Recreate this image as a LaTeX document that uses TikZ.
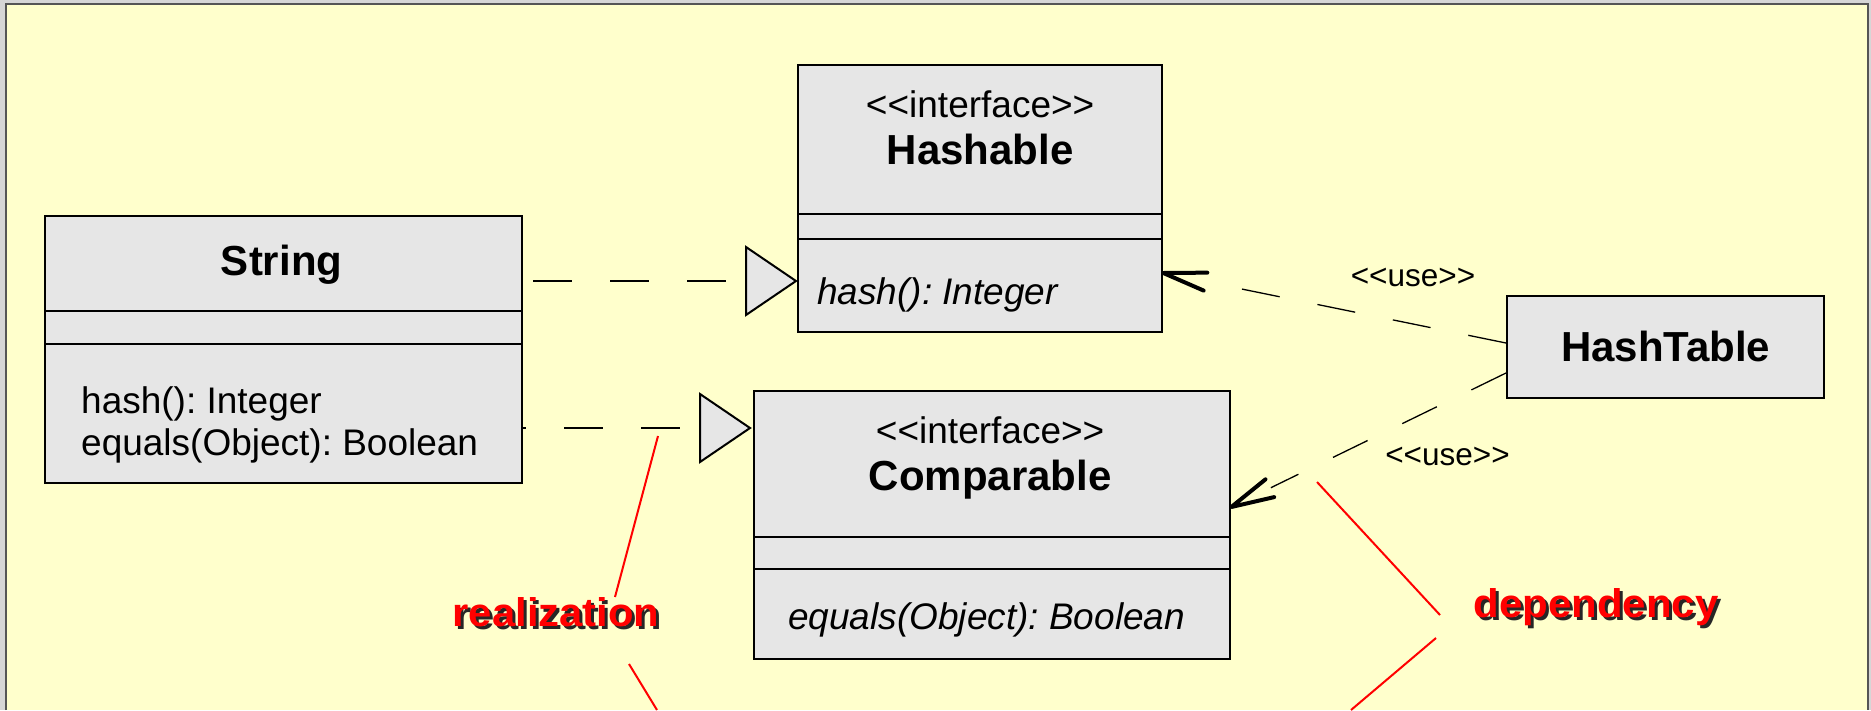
\documentclass[tikz,border=0pt]{standalone}
\usepackage{fontspec}
\usepackage{graphicx}
\newfontfamily\lib{Liberation Sans}
\usetikzlibrary{calc}
\frenchspacing
\definecolor{panel}{HTML}{FFFFCC}
\definecolor{boxgray}{HTML}{E6E6E6}
\definecolor{outergray}{HTML}{D6D6D6}
\definecolor{edgegray}{HTML}{555555}
\definecolor{notered}{HTML}{FF0000}
\tikzset{
  umlbox/.style={draw=black, fill=boxgray, line width=2.3pt, inner sep=0pt, anchor=north west},
  divider/.style={line width=2pt},
  txt/.style={inner sep=0pt, anchor=base, font=\lib\fontsize{37}{44}\selectfont},
  optxt/.style={inner sep=0pt, anchor=base west, font=\lib\fontsize{37}{44}\selectfont},
  itxt/.style={inner sep=0pt, anchor=base west, font=\lib\itshape\fontsize{37}{44}\selectfont},
  ttl/.style={inner sep=0pt, anchor=base, font=\lib\bfseries\fontsize{42}{50}\selectfont},
  usetxt/.style={inner sep=0pt, anchor=base, font=\lib\fontsize{31.5}{38}\selectfont},
  redlbl/.style={inner sep=0pt, anchor=base, text=notered, font=\lib\bfseries\fontsize{40}{48}\selectfont},
  shadowlbl/.style={inner sep=0pt, anchor=base, text=black!85, font=\lib\bfseries\fontsize{40}{48}\selectfont},
  realline/.style={line width=2.2pt, dash pattern=on 38.5pt off 38.5pt, dash phase=56.5pt},
  realtri/.style={draw=black, fill=boxgray, line width=2pt, line join=miter},
  depline/.style={line width=1.3pt, dash pattern=on 38.5pt off 38.5pt},
  dephead/.style={line width=4pt, line cap=round, line join=round},
  noteline/.style={draw=notered, line width=2pt}
}
\begin{document}
\begin{tikzpicture}[x=1pt,y=-1pt]
\useasboundingbox (0,0) rectangle (1871,710);
\fill[outergray] (0,0) rectangle (1871,710);
\fill[panel] (6,4) rectangle (1868,710);
\draw[edgegray, line width=1.5pt] (6,710) -- (6,4) -- (1868,4) -- (1868,710);

% String
\node[umlbox, minimum width=477pt, minimum height=267pt] (str) at (44,215) {};
\draw[divider] ($(str.north west)+(0,96)$) -- ($(str.north east)+(0,96)$);
\draw[divider] ($(str.north west)+(0,129)$) -- ($(str.north east)+(0,129)$);
\node[ttl] (strname) at ($(str.north)+(-2,60)$) {String};
\node[optxt] (strop1) at ($(str.north west)+(37,198)$) {hash(): Integer};
\node[optxt] (strop2) at ($(str.north west)+(37,240)$) {equals(Object): Boolean};

% Hashable
\node[umlbox, minimum width=364pt, minimum height=267pt] (hash) at (797,64) {};
\draw[divider] ($(hash.north west)+(0,150)$) -- ($(hash.north east)+(0,150)$);
\draw[divider] ($(hash.north west)+(0,175)$) -- ($(hash.north east)+(0,175)$);
\node[txt] (hashst) at ($(hash.north)+(0,53)$) {<<interface>>};
\node[ttl] (hashname) at ($(hash.north)+(0,100)$) {Hashable};
\node[itxt] (hashop) at ($(hash.north west)+(20,240)$) {hash(): Integer};

% Comparable
\node[umlbox, minimum width=476pt, minimum height=268pt] (comp) at (753,390) {};
\draw[divider] ($(comp.north west)+(0,147)$) -- ($(comp.north east)+(0,147)$);
\draw[divider] ($(comp.north west)+(0,179)$) -- ($(comp.north east)+(0,179)$);
\node[txt] (compst) at ($(comp.north)+(-2,53)$) {<<interface>>};
\node[ttl] (compname) at ($(comp.north)+(-2,100)$) {Comparable};
\node[itxt] (compop) at ($(comp.north west)+(35,239)$) {equals(Object): Boolean};

% HashTable
\node[umlbox, minimum width=317pt, minimum height=102pt] (ht) at (1506,295) {};
\node[ttl] (htname) at ($(ht.north)+(0,66)$) {HashTable};

% realization String -> Hashable
\coordinate (rt1) at ($(hash.north west)+(-1,217)$);
\coordinate (rb1) at ($(rt1)+(-50,0)$);
\coordinate (rs1) at ($(str.north east)+(0,66)$);
\draw[realline] (rb1) -- (rs1);
\draw[realtri] ($(rb1)+(0,-34)$) -- (rt1) -- ($(rb1)+(0,34)$) -- cycle;

% realization String -> Comparable
\coordinate (rt2) at ($(comp.north west)+(-3,38)$);
\coordinate (rb2) at ($(rt2)+(-50,0)$);
\coordinate (rs2) at ($(str.north east)+(0,213)$);
\draw[realline] (rb2) -- (rs2);
\draw[realtri] ($(rb2)+(0,-34)$) -- (rt2) -- ($(rb2)+(0,34)$) -- cycle;

% dependencies HashTable -> Hashable, Comparable
\coordinate (ds1) at ($(ht.north west)+(0,48)$);
\coordinate (dt1) at ($(hash.north east)+(0,209)$);
\draw[depline] (ds1) -- ($(dt1)!44pt!(ds1)$);
\draw[dephead] ($(dt1)!44pt!12:(ds1)$) -- (dt1) -- ($(dt1)!44pt!-12:(ds1)$);
\coordinate (ds2) at ($(ht.north west)+(0,78)$);
\coordinate (dt2) at ($(comp.north east)+(0,117)$);
\draw[depline] (ds2) -- ($(dt2)!44pt!(ds2)$);
\draw[dephead] ($(dt2)!44pt!13:(ds2)$) -- (dt2) -- ($(dt2)!44pt!-13:(ds2)$);
\node[usetxt] (use1) at (1413,286) {<<use>>};
\node[usetxt] (use2) at (1447.5,465) {<<use>>};

% notes
\node[shadowlbl] (realsh) at (559,629.5) {\scalebox{1.045}[1]{realization}};
\node[redlbl] (real) at (556,626.5) {\scalebox{1.045}[1]{realization}};
\node[shadowlbl] (depsh) at (1599,620) {\scalebox{1.05}[1]{dependency}};
\node[redlbl] (dep) at (1596,617) {\scalebox{1.05}[1]{dependency}};
\coordinate (rla) at (658,436);
\coordinate (rlb) at (615,597);
\coordinate (rlc) at (629,664);
\coordinate (rld) at (657,710);
\draw[noteline] (rla) -- (rlb);
\draw[noteline] (rlc) -- (rld);
\coordinate (dla) at (1317,482);
\coordinate (dlb) at (1440,615);
\coordinate (dlc) at (1436,638);
\coordinate (dld) at (1351,710);
\draw[noteline] (dla) -- (dlb);
\draw[noteline] (dlc) -- (dld);
\end{tikzpicture}
\end{document}
